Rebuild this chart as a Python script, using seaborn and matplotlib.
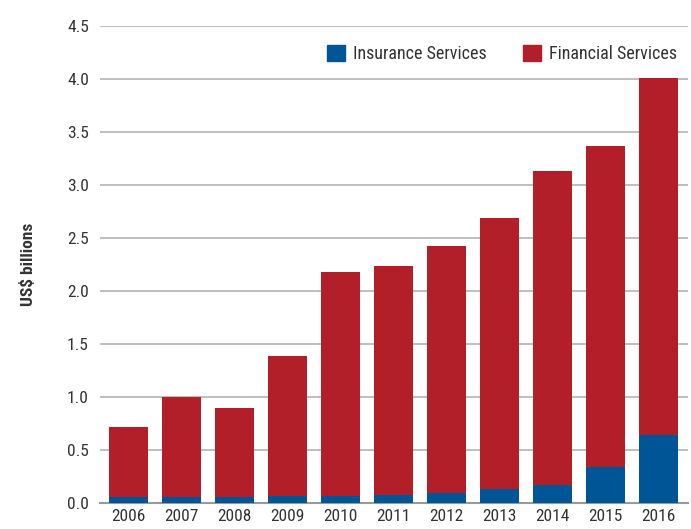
import matplotlib
matplotlib.use("Agg")
import matplotlib.pyplot as plt
from matplotlib.patches import Patch
import seaborn as sns
import pandas as pd

years = ["2006", "2007", "2008", "2009", "2010", "2011", "2012", "2013", "2014", "2015", "2016"]
insurance = [0.053, 0.053, 0.06, 0.07, 0.07, 0.078, 0.09, 0.135, 0.17, 0.335, 0.64]
financial = [0.667, 0.947, 0.84, 1.32, 2.11, 2.162, 2.33, 2.555, 2.965, 3.035, 3.37]
y_ticks = [0.0, 0.5, 1.0, 1.5, 2.0, 2.5, 3.0, 3.5, 4.0, 4.5]

BLUE = "#005596"
RED = "#B31F29"
TEXT = "#333333"

sns.set_style("white")
plt.rcParams["font.family"] = ["Roboto Condensed", "Liberation Sans Narrow", "Liberation Sans", "DejaVu Sans"]
plt.rcParams["font.size"] = 12.5

df = pd.DataFrame({"year": years, "insurance": insurance, "financial": financial})
df["total"] = df["insurance"] + df["financial"]

fig = plt.figure(figsize=(6.91, 5.29), dpi=100)
ax = fig.add_axes([100 / 691, 26 / 529, 588 / 691, 477 / 529])

sns.barplot(data=df, x="year", y="total", color=RED, saturation=1, width=0.74,
            linewidth=0, ax=ax, zorder=3)
sns.barplot(data=df, x="year", y="insurance", color=BLUE, saturation=1, width=0.74,
            linewidth=0, ax=ax, zorder=3)

ax.set_ylim(0, 4.5)
ax.set_xlim(-0.54, 10.56)
ax.set_yticks(y_ticks)
ax.set_yticklabels([f"{t:.1f}" for t in y_ticks], color=TEXT, fontsize=12.5)
ax.yaxis.grid(True, color="#b3b3b3", linewidth=1.2, zorder=0)
ax.set_axisbelow(True)
ax.tick_params(axis="x", length=0, pad=4, labelcolor=TEXT, labelsize=12.5)
ax.tick_params(axis="y", length=0, pad=8)
for s in ["top", "right", "left"]:
    ax.spines[s].set_visible(False)
ax.spines["bottom"].set_color("#999999")
ax.spines["bottom"].set_linewidth(1.5)
ax.set_xlabel("")
ax.set_ylabel("US$ billions", color=TEXT, fontsize=12.5, fontweight="semibold", labelpad=22)

handles = [Patch(color=BLUE, label="Insurance Services"), Patch(color=RED, label="Financial Services")]
ax.legend(handles=handles, loc="upper right", bbox_to_anchor=(1.009, 0.995), ncol=2, frameon=False,
          handlelength=1.0, handleheight=1.0, handletextpad=0.45, columnspacing=2.0,
          fontsize=13, labelcolor=TEXT)

fig.savefig("out.png", dpi=100)
